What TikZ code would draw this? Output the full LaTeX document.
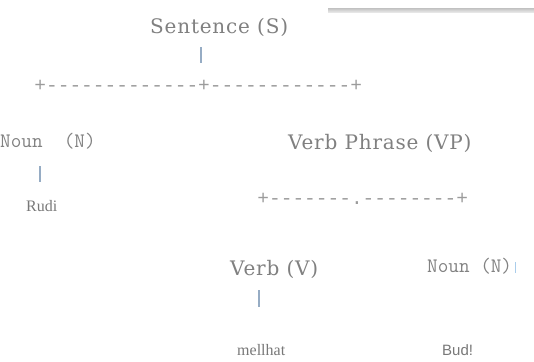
\documentclass[tikz,border=0pt]{standalone}
\usepackage{fontspec}
\setmainfont{Liberation Serif}
\newfontfamily\lblserif[LetterSpace=4]{DejaVu Serif}
\newfontfamily\dashmono{Liberation Mono}
\newfontfamily\wordsans{Liberation Sans}
\definecolor{txtgray}{RGB}{128,128,128}
\definecolor{leafgray}{RGB}{120,120,120}
\definecolor{monogray}{RGB}{130,130,130}
\definecolor{dashgray}{RGB}{155,155,155}
\definecolor{linkblue}{RGB}{150,172,196}
\definecolor{markblue}{RGB}{170,205,235}
\tikzset{
  lbl/.style={font=\lblserif\fontsize{20}{23}\selectfont, text=txtgray, inner sep=0pt, anchor=base west},
  monolbl/.style={font=\ttfamily\fontsize{20.6}{23}\selectfont, text=monogray, inner sep=0pt, anchor=base west},
  dashrow/.style={font=\dashmono\fontsize{19.5}{22}\selectfont, text=dashgray, inner sep=0pt, anchor=base west},
  leaf/.style={font=\fontsize{16}{19}\selectfont, text=leafgray, inner sep=0pt, anchor=base west},
  leafsans/.style={font=\wordsans\fontsize{15}{18}\selectfont, text=leafgray, inner sep=0pt, anchor=base west},
  conn/.style={draw=linkblue, line width=1.2pt},
}
\begin{document}
\begin{tikzpicture}[x=1pt,y=-1pt]
\useasboundingbox (0,0) rectangle (534,361);
% top-right gray bar
\shade[top color=gray!45, bottom color=gray!12] (328,8.5) rectangle (534,13);
% labels
\node[lbl] (S) at (150,34) {Sentence (S)};
\node[dashrow] (row1) at (34.2,91.5) {+-------------+------------+};
\node[monolbl] (N1) at (0,147) {Noun\ \ (N)};
\node[lbl] (VP) at (288,149) {Verb Phrase (VP)};
\node[leaf] (rudi) at (26,211) {Rudi};
\node[dashrow] (row2) at (257.2,204) {+-------.--------+};
\node[lbl] (V) at (230,275) {Verb (V)};
\node[monolbl] (N2) at (427,272.5) {Noun (N)};
\node[leaf] (mell) at (237,355) {mellhat};
\node[leafsans] (bud) at (442,355) {Bud!};
% connectors
\coordinate (c1a) at (201,47);
\coordinate (c1b) at (201,63);
\coordinate (c2a) at (40,166);
\coordinate (c2b) at (40,182);
\coordinate (c3a) at (259,290);
\coordinate (c3b) at (259,307);
\coordinate (c4a) at (515.5,262);
\coordinate (c4b) at (515.5,273);
\draw[conn] (c1a) -- (c1b);
\draw[conn] (c2a) -- (c2b);
\draw[conn] (c3a) -- (c3b);
\draw[draw=markblue, line width=1.6pt] (c4a) -- (c4b);
\end{tikzpicture}
\end{document}
